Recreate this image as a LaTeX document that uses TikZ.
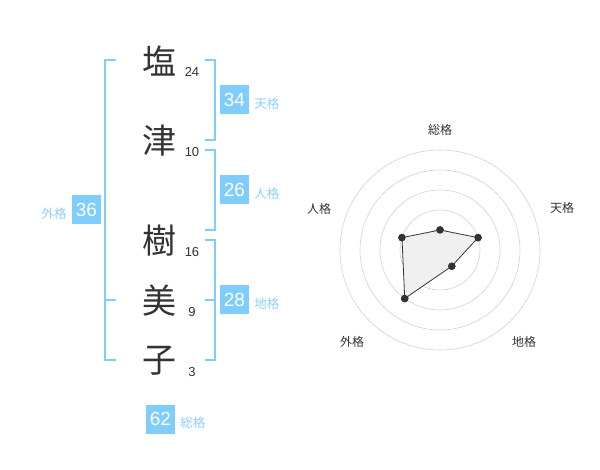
\documentclass[tikz,border=0pt]{standalone}
\usepackage{fontspec}
\setmainfont{Liberation Sans}
\newfontfamily\jpfont{Noto Sans CJK JP}
\usepackage{tikz}
\usetikzlibrary{positioning,calc}
\definecolor{kakublue}{RGB}{127,205,252}
\definecolor{kakutext}{RGB}{140,208,248}
\definecolor{inkgray}{RGB}{51,51,51}

\begin{document}
\begin{tikzpicture}[x=1pt,y=-1pt,
    kanji/.style={font=\jpfont\fontsize{34}{34}\selectfont,text=inkgray,inner sep=0pt},
    strokes/.style={font=\fontsize{13}{13}\selectfont,text=inkgray,inner sep=0pt},
    kakubox/.style={fill=kakublue,text=white,minimum size=29pt,inner sep=0pt,font=\fontsize{19}{19}\selectfont},
    kakulabel/.style={text=kakutext,font=\jpfont\fontsize{12.5}{12.5}\selectfont,inner sep=0pt},
    bracket/.style={draw=kakublue,line width=2pt},
    ring/.style={draw=black!18,line width=0.6pt},
    axislabel/.style={font=\jpfont\fontsize{12}{12}\selectfont,text=inkgray,inner sep=0pt},
    dot/.style={circle,fill=inkgray,minimum size=7.5pt,inner sep=0pt}]
    \useasboundingbox (0,0) rectangle (600,470);

    \node[kanji] (shio) at (159,61) {塩};
    \node[kanji] (tsu) at (159,141) {津};
    \node[kanji] (ki) at (159,241) {樹};
    \node[kanji] (mi) at (159,301) {美};
    \node[kanji] (ko) at (159,361) {子};
    \node[strokes] (n24) at (192,72) {24};
    \node[strokes] (n10) at (192,152) {10};
    \node[strokes] (n16) at (192,252) {16};
    \node[strokes] (n9) at (192,312) {9};
    \node[strokes] (n3) at (192,372) {3};

    \draw[bracket] (116,60) -| (105,360) -- (116,360);
    \draw[bracket] (105,300) -- (116,300);
    \draw[bracket] (205,60) -| (215,140) -- (205,140);
    \draw[bracket] (205,150) -| (215,230) -- (205,230);
    \draw[bracket] (205,240) -| (215,360) -- (205,360);
    \draw[bracket] (205,300) -- (215,300);

    \node[kakubox] (ten) at (234.5,100) {34};
    \node[kakubox] (jin) at (234.5,190) {26};
    \node[kakubox] (chi) at (234.5,300) {28};
    \node[kakubox] (gai) at (86.5,210) {36};
    \node[kakubox] (so) at (160.5,419) {62};
    \node[kakulabel,right=5pt of ten,yshift=-4pt] (tenlabel) {天格};
    \node[kakulabel,right=5pt of jin,yshift=-4pt] (jinlabel) {人格};
    \node[kakulabel,right=5pt of chi,yshift=-4pt] (chilabel) {地格};
    \node[kakulabel,left=5pt of gai,yshift=-4pt] (gailabel) {外格};
    \node[kakulabel,right=5pt of so,yshift=-4pt] (solabel) {総格};

    \coordinate (radar) at (440,250);
    \foreach \r in {20,40,...,100}
        \draw[ring] (radar) circle[radius=\r];
    \fill[black!20] (radar) circle[radius=3.5];
    \node[axislabel] (axso) at (440,130) {総格};
    \node[axislabel] (axten) at (562,208) {天格};
    \node[axislabel] (axchi) at (524,342) {地格};
    \node[axislabel] (axgai) at (352,342) {外格};
    \node[axislabel] (axjin) at (319,209) {人格};

    \node[dot] (pso) at ($(radar)+(-90:20)$) {};
    \node[dot] (pten) at ($(radar)+(-18:40)$) {};
    \node[dot] (pchi) at ($(radar)+(54:20)$) {};
    \node[dot] (pgai) at ($(radar)+(126:60)$) {};
    \node[dot] (pjin) at ($(radar)+(198:40)$) {};
    \filldraw[fill=black!6,draw=inkgray,line width=0.8pt]
        (pso.center) -- (pten.center) -- (pchi.center) -- (pgai.center) -- (pjin.center) -- cycle;
    \foreach \p in {pso,pten,pchi,pgai,pjin}
        \fill[inkgray] (\p) circle[radius=3.75];
\end{tikzpicture}
\end{document}
